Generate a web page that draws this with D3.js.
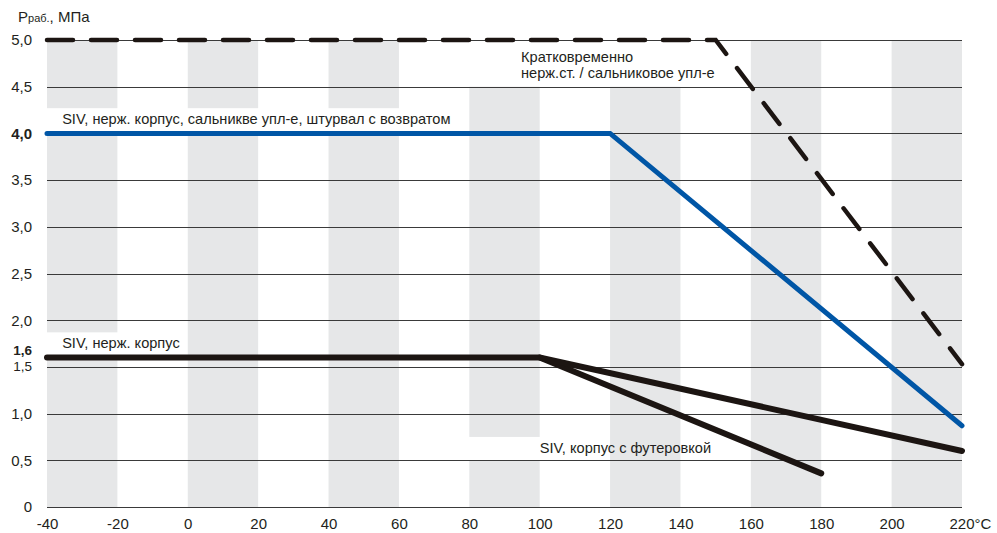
<!DOCTYPE html>
<html>
<head>
<meta charset="utf-8">
<script src="https://cdn.jsdelivr.net/npm/d3@7"></script>
<style>
  html, body { margin: 0; padding: 0; background: #fff; }
  svg text { font-family: "Liberation Sans", Arial, sans-serif; fill: #231f20; }
</style>
</head>
<body>
<svg id="chart" width="997" height="533"></svg>
<script>
// ---- data ----
const xTicks = [-40, -20, 0, 20, 40, 60, 80, 100, 120, 140, 160, 180, 200, 220];
const yTicks = [0, 0.5, 1.0, 1.5, 2.0, 2.5, 3.0, 3.5, 4.0, 4.5, 5.0];
const yBoldTicks = [4.0, 1.6];

// gray background columns (temperature range) and the pressure ranges they cover
const bandFrom = [-40, 0, 40, 80, 120, 160, 200];
const bandTo   = [-20, 20, 60, 100, 140, 180, 220];
const bandSpans = [
  [[0, 1.6], [1.87, 4.0], [4.27, 5.0]],
  [[0, 4.0], [4.27, 5.0]],
  [[0, 4.0], [4.27, 5.0]],
  [[0, 0.5], [0.75, 4.5]],
  [[0, 4.5]],
  [[0, 5.0]],
  [[0, 5.0]]
];

// series
const shortTermT = [-40, 150, 220];
const shortTermP = [5.0, 5.0, 1.53];
const stainlessGlandT = [-40, 120, 220];
const stainlessGlandP = [4.0, 4.0, 0.87];
const stainlessT = [-40, 100, 220];
const stainlessP = [1.6, 1.6, 0.6];
const linedT = [100, 180];
const linedP = [1.6, 0.36];

const labels = [
  { lines: ["SIV, нерж. корпус, сальникве упл-е, штурвал с возвратом"], t: -35.7, p: 4.1 },
  { lines: ["SIV, нерж. корпус"], t: -35.7, p: 1.7 },
  { lines: ["Кратковременно", "нерж.ст. / сальниковое упл-е"], t: 94.7, p: 4.765 },
  { lines: ["SIV, корпус с футеровкой"], t: 100, p: 0.58 }
];

// ---- chart ----
const svg = d3.select("#chart");
const x = d3.scaleLinear().domain([-40, 220]).range([47, 962]);
const y = d3.scaleLinear().domain([0, 5]).range([507, 40]);

// bands
const bandData = [];
bandFrom.forEach((f, i) => bandSpans[i].forEach(s => bandData.push({ t0: f, t1: bandTo[i], p0: s[0], p1: s[1] })));
svg.append("g").selectAll("rect").data(bandData).join("rect")
  .attr("x", d => x(d.t0)).attr("width", d => x(d.t1) - x(d.t0))
  .attr("y", d => y(d.p1)).attr("height", d => y(d.p0) - y(d.p1))
  .attr("fill", "#e6e7e8");

// grid lines
svg.append("g").selectAll("line").data(yTicks).join("line")
  .attr("x1", x(-40)).attr("x2", x(220))
  .attr("y1", d => Math.round(y(d)) + 0.5).attr("y2", d => Math.round(y(d)) + 0.5)
  .attr("stroke", "#3a3a3a").attr("stroke-width", 1.2);

// y axis labels
const fmt = d => d === 0 ? "0" : d.toFixed(1).replace(".", ",");
const yAxis = d3.axisLeft(y).tickValues(yTicks).tickSize(0).tickPadding(0).tickFormat(fmt);
const gy = svg.append("g").attr("transform", "translate(32,0)").call(yAxis);
gy.select(".domain").remove();
gy.selectAll("text")
  .attr("font-size", d => d === 1.5 ? 13.5 : 15)
  .attr("font-family", "Liberation Sans, Arial, sans-serif")
  .attr("fill", "#231f20")
  .attr("font-weight", d => yBoldTicks.includes(d) ? "bold" : "normal")
  .attr("dy", d => d === 1.5 ? "3.3px" : "0.32em");
gy.append("text").datum(1.6)
  .attr("y", y(1.6)).attr("dy", "-2.6px").attr("x", 0)
  .attr("text-anchor", "end")
  .attr("font-size", 13.5).attr("font-weight", "bold")
  .attr("font-family", "Liberation Sans, Arial, sans-serif")
  .text(fmt(1.6));

// x axis labels
const xAxis = d3.axisBottom(x).tickValues(xTicks).tickSize(0).tickPadding(0)
  .tickFormat(d => d === 220 ? "220°C" : String(d));
const gx = svg.append("g").attr("transform", "translate(0,518)").call(xAxis);
gx.select(".domain").remove();
gx.selectAll("text")
  .attr("font-size", 15)
  .attr("font-family", "Liberation Sans, Arial, sans-serif")
  .attr("fill", "#231f20")
  .attr("text-anchor", d => d === 220 ? "start" : "middle")
  .attr("dx", d => d === 220 ? -13 : 0);

// axis title
const title = svg.append("text").attr("x", 18).attr("y", 22)
  .attr("font-family", "Liberation Sans, Arial, sans-serif").attr("font-size", 15);
title.append("tspan").text("P");
title.append("tspan").attr("font-size", 11).text("раб.");
title.append("tspan").text(", МПа");

// lines
const line = d3.line().x(d => x(d[0])).y(d => y(d[1]));
const zip = (a, b) => a.map((v, i) => [v, b[i]]);

svg.append("path").datum(zip(stainlessGlandT, stainlessGlandP)).attr("d", line)
  .attr("fill", "none").attr("stroke", "#0056a6").attr("stroke-width", 5)
  .attr("stroke-linejoin", "miter").attr("stroke-linecap", "round");

svg.append("path").datum(zip(linedT, linedP)).attr("d", line)
  .attr("fill", "none").attr("stroke", "#1c1512").attr("stroke-width", 6)
  .attr("stroke-linejoin", "miter").attr("stroke-linecap", "round");

svg.append("path").datum(zip(stainlessT, stainlessP)).attr("d", line)
  .attr("fill", "none").attr("stroke", "#1c1512").attr("stroke-width", 6)
  .attr("stroke-linejoin", "miter").attr("stroke-linecap", "round");

svg.append("path").datum(zip(shortTermT, shortTermP)).attr("d", line)
  .attr("fill", "none").attr("stroke", "#1c1512").attr("stroke-width", 4.5)
  .attr("stroke-dasharray", "26,18").attr("stroke-linecap", "round")
  .attr("stroke-linejoin", "miter");

// labels
labels.forEach(l => {
  l.lines.forEach((s, i) =>
    svg.append("text").attr("x", x(l.t)).attr("y", y(l.p) + i * 16)
      .attr("font-size", 14.6).text(s));
});
</script>
</body>
</html>
